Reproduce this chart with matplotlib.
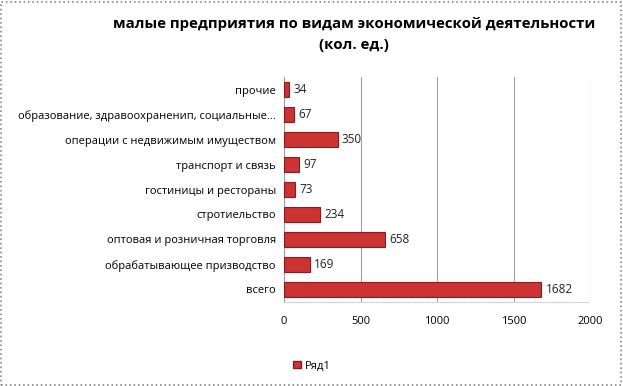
import matplotlib
matplotlib.use("Agg")
import matplotlib.pyplot as plt
from matplotlib.patches import Rectangle, Patch

categories = ["всего", "обрабатывающее призводство", "оптовая и розничная торговля",
              "стротиельство", "гостиницы и рестораны", "транспорт и связь",
              "операции с недвижимым имуществом",
              "образование, здравоохраненип, социальные...", "прочие"]
values = [1682, 169, 658, 234, 73, 97, 350, 67, 34]
xticks = [0, 500, 1000, 1500, 2000]
series_name = "Ряд1"
title_lines = ["малые предприятия по видам экономической деятельности", "(кол. ед.)"]

plt.rcParams['font.family'] = ['Open Sans', 'DejaVu Sans']

fig = plt.figure(figsize=(6.23, 3.86), dpi=100)
ax = fig.add_axes([0.456, 0.218, 0.491, 0.582])

ypos = list(range(len(categories)))
ax.barh(ypos, values, height=0.58, color='#CC3333', edgecolor='#8E1B1B', linewidth=0.8, zorder=3)
for y, v in zip(ypos, values):
    ax.text(v + 28, y, str(v), va='center', ha='left', fontsize=8.5, color='#222222')

ax.set_xlim(0, 2000)
ax.set_ylim(-0.5, len(categories) - 0.5)
ax.set_xticks(xticks)
ax.set_xticklabels([str(t) for t in xticks], fontsize=8)
ax.set_yticks(ypos)
ax.set_yticklabels(categories, fontsize=8)
ax.tick_params(axis='both', length=0, pad=6)
ax.tick_params(axis='x', pad=10)
ax.xaxis.grid(True, color='#A0A0A0', linewidth=0.8, zorder=0)
for s in ['top', 'right']:
    ax.spines[s].set_visible(False)
ax.spines['left'].set_color('#A0A0A0')
ax.spines['bottom'].set_color('#C8C8C8')
ax.spines['bottom'].set_linestyle(':')

fig.text(0.568, 1 - 24 / 386, title_lines[0], ha='center', va='center', fontsize=10.8,
         fontweight='bold')
fig.text(0.568, 1 - 45 / 386, title_lines[1], ha='center', va='center', fontsize=10.8,
         fontweight='bold')

fig.legend(handles=[Patch(facecolor='#CC3333', edgecolor='#8E1B1B', label=series_name)],
           loc='center left', bbox_to_anchor=(0.455, 0.052), frameon=False, fontsize=8,
           handlelength=0.7, handleheight=0.7, handletextpad=0.3)

fig.patches.append(Rectangle((0.002, 0.003), 0.995, 0.993, transform=fig.transFigure,
                             fill=False, edgecolor='#888888', linestyle=':', linewidth=1.2))

fig.savefig("out.png", dpi=100)
